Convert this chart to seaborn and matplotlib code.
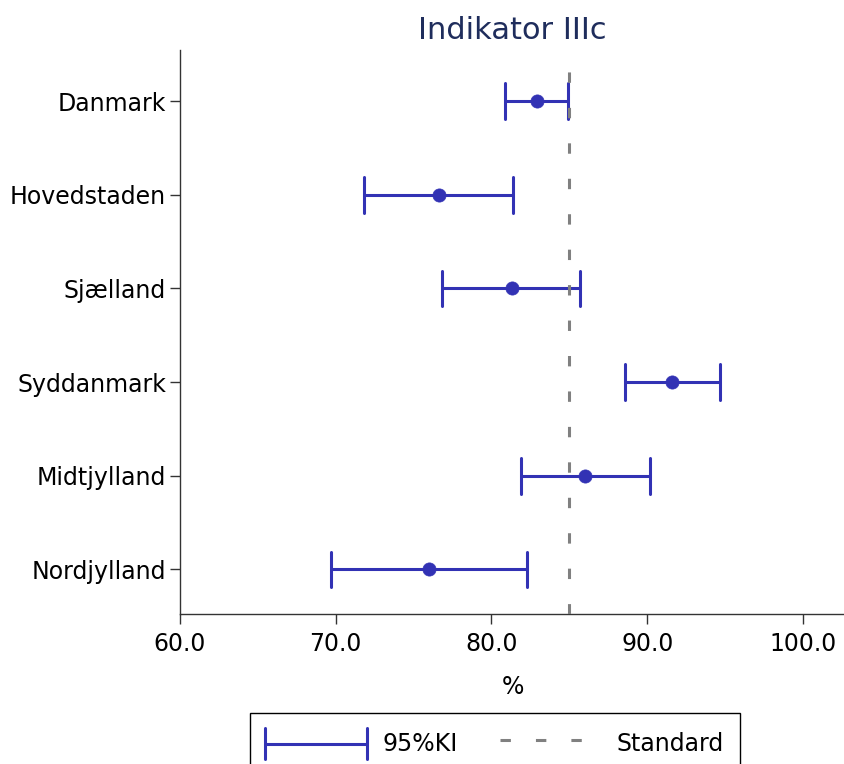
import numpy as np
import pandas as pd
import matplotlib
matplotlib.use("Agg")
import matplotlib.pyplot as plt
import seaborn as sns
from matplotlib.lines import Line2D
from matplotlib.legend_handler import HandlerBase
from matplotlib.ticker import FormatStrFormatter

# ---- data ----
regions = ["Danmark", "Hovedstaden", "Sjælland", "Syddanmark", "Midtjylland", "Nordjylland"]
estimate = [82.9, 76.6, 81.3, 91.6, 86.0, 76.0]
ci_low = [80.9, 71.8, 76.8, 88.6, 81.9, 69.7]
ci_high = [84.9, 81.4, 85.7, 94.7, 90.2, 82.3]
standard = 85.0
x_ticks = [60, 70, 80, 90, 100]
title = "Indikator IIIc"
x_label = "%"
legend_labels = ["95%KI", "Standard"]

BLUE = "#3232B4"
GREY = "#808080"
NAVY = "#1F2D5C"

# long-form table: low / estimate / high per region; median -> estimate, min/max -> CI
rows = []
for r, lo, est, hi in zip(regions, ci_low, estimate, ci_high):
    for v in (lo, est, hi):
        rows.append({"region": r, "value": v})
df = pd.DataFrame(rows)

sns.set_theme(style="ticks")
plt.rcParams["font.family"] = ["DejaVu Sans"]
plt.rcParams["text.color"] = "black"
plt.rcParams["axes.labelcolor"] = "black"

W, H, DPI = 845, 764, 100
fig = plt.figure(figsize=(W / DPI, H / DPI), dpi=DPI)
ax = fig.add_axes([180 / W, 1 - 614 / H, 665 / W, 564 / H])

sns.pointplot(
    data=df, x="value", y="region", order=regions,
    estimator=np.median, errorbar=lambda v: (np.min(v), np.max(v)),
    orient="h", linestyle="none", color=BLUE, marker="o",
    markersize=9.5, markeredgewidth=0.5,
    capsize=0.38, err_kws={"linewidth": 2.2, "color": BLUE},
    ax=ax,
)

ax.axvline(standard, color=GREY, lw=2.2, dashes=(3.4, 8.2), zorder=5)

ax.set_xlim(60, 102.7)
ax.set_ylim(5.475, -0.545)
ax.set_xticks(x_ticks)
ax.xaxis.set_major_formatter(FormatStrFormatter("%.1f"))
ax.set_ylabel("")
ax.set_xlabel(x_label, fontsize=17, labelpad=14, color="black")
ax.set_title(title, fontsize=22, color=NAVY, pad=8)

for side in ("top", "right"):
    ax.spines[side].set_visible(False)
for side in ("left", "bottom"):
    ax.spines[side].set_color("#333333")
    ax.spines[side].set_linewidth(1.0)
ax.tick_params(axis="both", which="major", labelsize=17, length=7, width=1.0,
               color="#333333", labelcolor="black")
ax.tick_params(axis="x", pad=6)
ax.tick_params(axis="y", pad=3)


class CIHandler(HandlerBase):
    def create_artists(self, legend, orig_handle, xdescent, ydescent,
                       width, height, fontsize, trans):
        y = height / 2 - ydescent
        x0 = -xdescent
        x1 = -xdescent + width
        half = 11.0
        lw = orig_handle.get_linewidth()
        c = orig_handle.get_color()
        return [
            Line2D([x0, x1], [y, y], color=c, lw=lw, transform=trans),
            Line2D([x0, x0], [y - half, y + half], color=c, lw=lw, transform=trans),
            Line2D([x1, x1], [y - half, y + half], color=c, lw=lw, transform=trans),
        ]


ci_proxy = Line2D([], [], color=BLUE, lw=2.2)
std_proxy = Line2D([], [], color=GREY, lw=2.2, dashes=(3.4, 8.2))

leg = fig.legend(
    handles=[ci_proxy, std_proxy], labels=legend_labels,
    handler_map={ci_proxy: CIHandler()},
    loc="upper left", bbox_to_anchor=(250 / W, 1 - 713 / H),
    ncol=2, frameon=True, fancybox=False, framealpha=1,
    edgecolor="black", fontsize=17, handlelength=4.3, handletextpad=0.65,
    columnspacing=1.8, borderpad=0.65, handleheight=1.6, borderaxespad=0,
    labelcolor="black",
)
leg.get_frame().set_linewidth(1.0)

fig.savefig("out.png", dpi=DPI)
